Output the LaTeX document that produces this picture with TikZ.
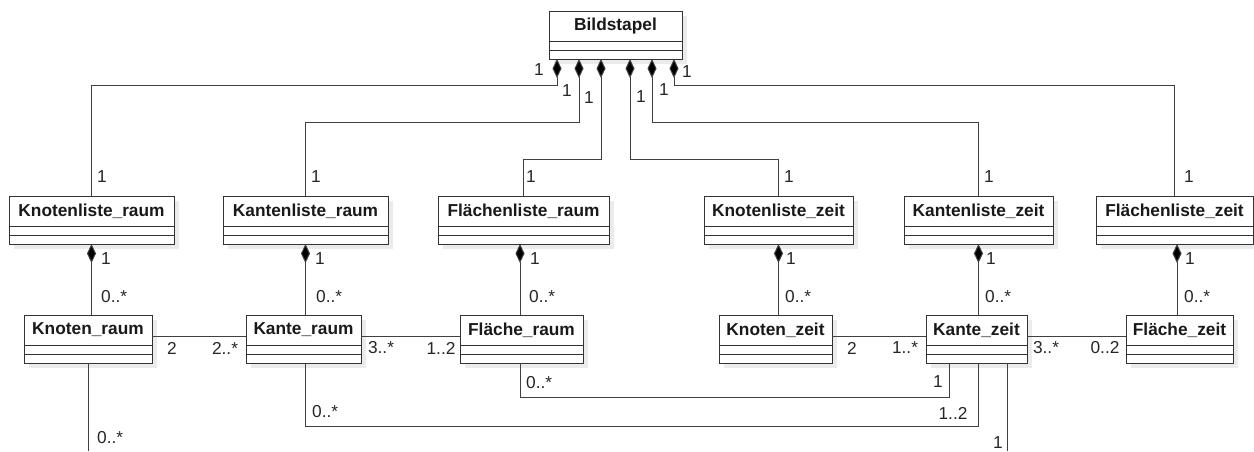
\documentclass[tikz,border=0pt]{standalone}
\usepackage{fontspec}
\setmainfont{Liberation Sans}
\usetikzlibrary{arrows.meta,shadows}

% class box: name, centre x, top y, width, title
\newcommand\umlcls[5]{%
  \node[cls, minimum width=#4pt, anchor=north] (#1) at (#2,#3) {};
  \draw[boxline] ([yshift=-30pt]#1.north west) -- ([yshift=-30pt]#1.north east)
                 ([yshift=-39pt]#1.north west) -- ([yshift=-39pt]#1.north east);
  \node[ttl] (#1-t) at ([yshift=-15pt]#1.north) {#5};%
}

\begin{document}
\begin{tikzpicture}[x=1pt,y=-1pt,
  boxline/.style={draw=black!80, line width=1pt},
  cls/.style={boxline, fill=white, minimum height=48pt, inner sep=0pt, outer sep=0pt,
    drop shadow={shadow xshift=5pt, shadow yshift=-5pt, fill=black!8, opacity=1}},
  ttl/.style={font=\bfseries\fontsize{17.3}{20}\selectfont, inner sep=0pt, text=black!90},
  lbl/.style={font=\fontsize{17.3}{20}\selectfont, inner sep=0pt, text=black!85},
  conn/.style={draw=black!75, line width=1pt},
  comp/.style={conn, {Diamond[length=19pt,width=9pt,fill=black]}-}
]
\useasboundingbox (0,0) rectangle (1254,451);

% classes
\umlcls{B}{615.5}{11}{133}{Bildstapel}

\umlcls{KLR}{91.5}{196}{165}{Knotenliste\_raum}
\umlcls{KALR}{305.5}{196}{165}{Kantenliste\_raum}
\umlcls{FLLR}{523.5}{196}{171}{Flächenliste\_raum}
\umlcls{KLZ}{778.5}{196}{149}{Knotenliste\_zeit}
\umlcls{KALZ}{978.5}{196}{149}{Kantenliste\_zeit}
\umlcls{FLLZ}{1174.5}{196}{157}{Flächenliste\_zeit}

\umlcls{KNR}{88}{315}{128}{Knoten\_raum}
\umlcls{KAR}{303.5}{315}{115}{Kante\_raum}
\umlcls{FLR}{521.5}{315}{123}{Fläche\_raum}
\umlcls{KNZ}{775.5}{315}{113}{Knoten\_zeit}
\umlcls{KAZ}{976.5}{315}{101}{Kante\_zeit}
\umlcls{FLZ}{1179.5}{315}{107}{Fläche\_zeit}

% free ends at the lower border
\coordinate (endA) at (88,451);
\coordinate (endB) at (1007,451);

% Bildstapel compositions
\draw[comp] (B.south -| 557,0) -- ++(0,26) -| (KLR.north);
\draw[comp] (B.south -| 579,0) -- ++(0,63) -| (KALR.north);
\draw[comp] (B.south -| 601,0) -- ++(0,100) -| (FLLR.north);
\draw[comp] (B.south -| 630,0) -- ++(0,100) -| (KLZ.north);
\draw[comp] (B.south -| 652,0) -- ++(0,63) -| (KALZ.north);
\draw[comp] (B.south -| 674,0) -- ++(0,26) -| (FLLZ.north);

\node[lbl] at (539,70) {1};
\node[lbl] at (567,91) {1};
\node[lbl] at (589,98) {1};
\node[lbl] at (641,97) {1};
\node[lbl] at (664,90) {1};
\node[lbl] at (687,72) {1};

\foreach \x in {102,316,531,789,989,1189} \node[lbl] at (\x,177) {1};

% list compositions
\draw[comp] (KLR.south) -- (KLR.south |- KNR.north);
\draw[comp] (KALR.south) -- (KALR.south |- KAR.north);
\draw[comp] (FLLR.south -| 520,0) -- (FLR.north -| 520,0);
\draw[comp] (KLZ.south) -- (KLZ.south |- KNZ.north);
\draw[comp] (KALZ.south) -- (KALZ.south |- KAZ.north);
\draw[comp] (FLLZ.south -| 1177,0) -- (FLZ.north -| 1177,0);

\foreach \x in {106,320,535,791,991,1190} \node[lbl] at (\x,259) {1};
\foreach \x in {101,316,529,785,985,1184} \node[lbl, anchor=west] at (\x,297) {0..*};

% associations between elements
\draw[conn] ([yshift=-21pt]KNR.north east) -- ([yshift=-21pt]KAR.north west);
\draw[conn] ([yshift=-21pt]KAR.north east) -- ([yshift=-21pt]FLR.north west);
\draw[conn] ([yshift=-21pt]KNZ.north east) -- ([yshift=-21pt]KAZ.north west);
\draw[conn] ([yshift=-21pt]KAZ.north east) -- ([yshift=-21pt]FLZ.north west);

\node[lbl] at (172,348) {2};
\node[lbl] at (225,348) {2..*};
\node[lbl] at (381,348) {3..*};
\node[lbl] at (441,348) {1..2};
\node[lbl] at (852,348) {2};
\node[lbl] at (905,348) {1..*};
\node[lbl] at (1046,348) {3..*};
\node[lbl] at (1105,348) {0..2};

% lower associations
\draw[conn] (FLR.south -| 520,0) -- (520,397) -| (KAZ.south -| 949,0);
\draw[conn] (KAR.south -| 305,0) -- (305,426) -| (KAZ.south -| 978,0);
\draw[conn] (KNR.south) -- (endA);
\draw[conn] (KAZ.south -| 1007,0) -- (endB);

\node[lbl, anchor=west] at (526,383) {0..*};
\node[lbl] at (938,382) {1};
\node[lbl, anchor=west] at (312,412) {0..*};
\node[lbl] at (953,413) {1..2};
\node[lbl, anchor=west] at (97,438) {0..*};
\node[lbl] at (998,443) {1};
\end{tikzpicture}
\end{document}
